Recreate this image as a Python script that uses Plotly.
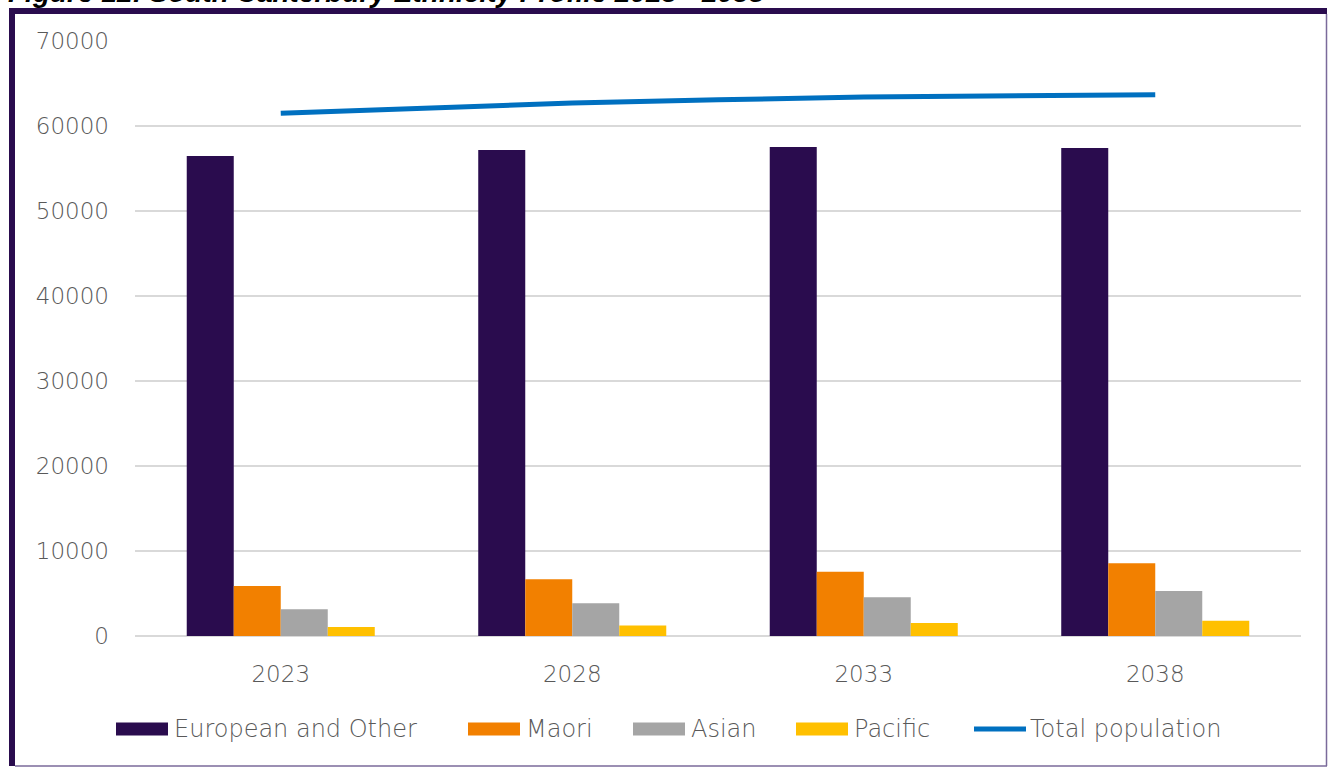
import plotly.graph_objects as go

years = ["2023", "2028", "2033", "2038"]
european = [56470, 57180, 57530, 57410]
maori = [5880, 6670, 7570, 8550]
asian = [3140, 3840, 4550, 5290]
pacific = [1060, 1250, 1530, 1800]
total = [61490, 62700, 63400, 63690]

series_names = ["European and Other", "Maori", "Asian", "Pacific"]
series_colors = ["#2a0c4e", "#f28000", "#a5a5a5", "#ffc000"]
line_name = "Total population"
line_color = "#0070c0"
title_text = "Figure 12: South Canterbury Ethnicity Profile 2023 - 2038"

W, H = 1328, 767
L, R, T, B = 135, 27, 41, 131

TXT = "#595959"
FONT = "DejaVu Sans"

fig = go.Figure()
for name, vals, col in zip(series_names, [european, maori, asian, pacific], series_colors):
    fig.add_trace(go.Bar(x=years, y=vals, name=name, marker=dict(color=col, line=dict(width=0)),
                         showlegend=False))
fig.add_trace(go.Scatter(x=years, y=total, name=line_name, mode="lines",
                         line=dict(color=line_color, width=5, shape="spline", smoothing=0.6),
                         showlegend=False))

pw = W - L - R
ph = H - T - B

def px_x(x):
    return (x - L) / pw

def px_y(y):
    return (H - B - y) / ph

shapes = []
annotations = []

# custom legend
legend_items = [
    ("bar", series_names[0], series_colors[0], 116),
    ("bar", series_names[1], series_colors[1], 468),
    ("bar", series_names[2], series_colors[2], 633),
    ("bar", series_names[3], series_colors[3], 796),
    ("line", line_name, line_color, 972),
]
ly = 729
for kind, name, col, x0 in legend_items:
    if kind == "bar":
        shapes.append(dict(type="rect", xref="paper", yref="paper",
                           x0=px_x(x0), x1=px_x(x0 + 52), y0=px_y(ly - 6.5), y1=px_y(ly + 6.5),
                           fillcolor=col, line=dict(width=0)))
        tx = x0 + 56
    else:
        shapes.append(dict(type="line", xref="paper", yref="paper",
                           x0=px_x(x0 + 2), x1=px_x(x0 + 54), y0=px_y(ly), y1=px_y(ly),
                           line=dict(color=col, width=5)))
        tx = x0 + 56
    annotations.append(dict(text=name, xref="paper", yref="paper", x=px_x(tx), y=px_y(ly),
                            xanchor="left", yanchor="middle", showarrow=False,
                            font=dict(family=FONT, size=24, color=TXT, weight=200)))

# frame
shapes += [
    dict(type="line", xref="paper", yref="paper", x0=px_x(12), x1=px_x(12), y0=px_y(8), y1=px_y(766),
         line=dict(color="#2a0c4e", width=6)),
    dict(type="line", xref="paper", yref="paper", x0=px_x(9), x1=px_x(1327), y0=px_y(11), y1=px_y(11),
         line=dict(color="#2a0c4e", width=6)),
    dict(type="line", xref="paper", yref="paper", x0=px_x(1326.5), x1=px_x(1326.5), y0=px_y(14), y1=px_y(766),
         line=dict(color="#7a6a9a", width=1.5)),
    dict(type="line", xref="paper", yref="paper", x0=px_x(15), x1=px_x(1327), y0=px_y(766), y1=px_y(766),
         line=dict(color="#7a6a9a", width=1.5)),
]

# title (cut off at top)
annotations.append(dict(text="<b><i>" + title_text + "</i></b>", xref="paper", yref="paper",
                        x=px_x(6), y=px_y(4), xanchor="left", yanchor="bottom", yshift=-6,
                        showarrow=False, font=dict(family="Liberation Sans", size=28, color="#000000")))

fig.update_layout(
    width=W, height=H,
    margin=dict(l=L, r=R, t=T, b=B, pad=0),
    paper_bgcolor="white", plot_bgcolor="white",
    barmode="group", bargap=0.355, bargroupgap=0,
    shapes=shapes, annotations=annotations,
    showlegend=False,
    xaxis=dict(type="category", showgrid=False, showline=False, ticks="",
               tickfont=dict(family=FONT, size=23, color=TXT, weight=200), ticklabelstandoff=22),
    yaxis=dict(range=[0, 70000], dtick=10000, showgrid=True, gridcolor="#d9d9d9", gridwidth=1.5,
               zeroline=True, zerolinecolor="#d9d9d9", zerolinewidth=2, showline=False, ticks="",
               tickformat="d",
               tickfont=dict(family=FONT, size=23, color=TXT, weight=200), ticklabelstandoff=25),
)

fig.write_html("out.html")
